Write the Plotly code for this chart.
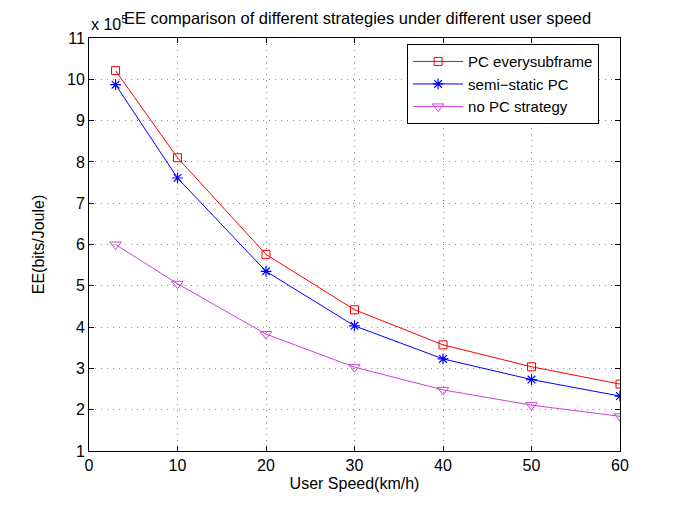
import plotly.graph_objects as go

speed = [3, 10, 20, 30, 40, 50, 60]
pc_every = [10.21, 8.10, 5.76, 4.42, 3.57, 3.04, 2.62]
semi_static = [9.87, 7.61, 5.35, 4.03, 3.23, 2.73, 2.33]
no_pc = [6.00, 5.05, 3.83, 3.03, 2.48, 2.11, 1.84]

names = ["PC everysubframe", "semi\u2212static PC", "no PC strategy"]
x_ticks = [0, 10, 20, 30, 40, 50, 60]
y_ticks = [1, 2, 3, 4, 5, 6, 7, 8, 9, 10, 11]

FONT = "Liberation Sans, Arial, Helvetica, sans-serif"
MAG = "#cc40dc"

fig = go.Figure()
fig.add_trace(go.Scatter(x=speed, y=pc_every, name=names[0], mode="lines+markers",
                         line=dict(color="#ff0000", width=1),
                         marker=dict(symbol="square-open", size=8, color="#ff0000", line=dict(width=1))))
fig.add_trace(go.Scatter(x=speed, y=semi_static, name=names[1], mode="lines+markers",
                         line=dict(color="#0000ff", width=1),
                         marker=dict(symbol="asterisk-open", size=9, color="#0000ff", line=dict(width=1.2, color="#0000ff"))))
fig.add_trace(go.Scatter(x=speed, y=no_pc, name=names[2], mode="lines+markers",
                         line=dict(color=MAG, width=1),
                         marker=dict(symbol="triangle-down-open", size=10, color=MAG, line=dict(width=1))))

axis_common = dict(showline=True, linecolor="black", linewidth=1, mirror="ticks",
                   ticks="inside", ticklen=5, tickcolor="black", automargin=False,
                   showgrid=True, gridcolor="#8a8a8a", gridwidth=1, griddash="1px,5px",
                   zeroline=False, tickfont=dict(size=16, color="black", family=FONT))

fig.update_layout(
    width=685, height=507,
    margin=dict(l=81, r=73, t=30, b=64),
    paper_bgcolor="white", plot_bgcolor="white",
    font=dict(family=FONT, size=16, color="black"),
    xaxis=dict(range=[0, 60], tickvals=x_ticks,
               title=dict(text="User Speed(km/h)", font=dict(size=16), standoff=4), **axis_common),
    yaxis=dict(range=[1, 11], tickvals=y_ticks,
               title=dict(text="EE(bits/Joule)", font=dict(size=16), standoff=18), **axis_common),
    legend=dict(x=0.599, y=0.985, xanchor="left", yanchor="top",
                bgcolor="white", bordercolor="black", borderwidth=1,
                font=dict(size=15, family=FONT), tracegroupgap=0, itemwidth=50),
    showlegend=True,
)

fig.add_annotation(text="EE comparison of different strategies under different user speed",
                   xref="paper", yref="paper", x=0.062, y=1.0, yshift=9,
                   xanchor="left", yanchor="bottom", showarrow=False,
                   font=dict(size=16.5, family=FONT, color="black"))
fig.add_annotation(text="x 10<sup>5</sup>",
                   xref="paper", yref="paper", x=0.0, y=1.0, yshift=3,
                   xanchor="left", yanchor="bottom", showarrow=False,
                   font=dict(size=16, family=FONT, color="black"))

fig.write_html("out.html")
